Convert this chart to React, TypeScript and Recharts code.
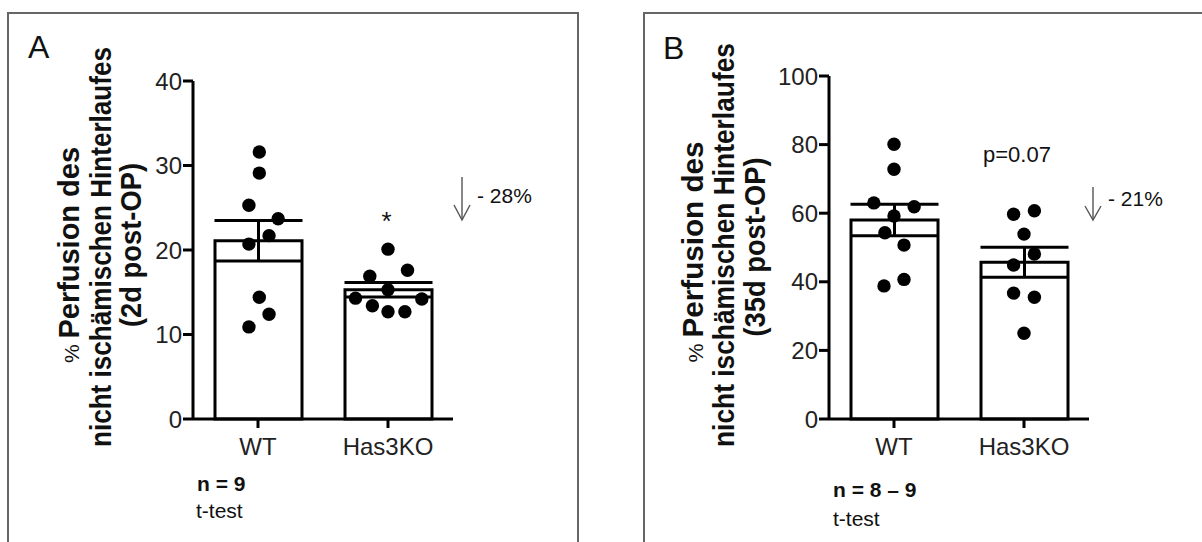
import React from 'react';
import { ComposedChart, Bar, ErrorBar, Scatter, XAxis, YAxis } from 'recharts';

const FONT = "'Liberation Sans', Arial, Helvetica, sans-serif";

// ---------- shared ----------
const categories = ['WT', 'Has3KO'];

// ---------- Panel A (2d post-OP) ----------
const aMeans = [21.1, 15.3];
const aSem = [2.4, 0.85];
const aWT = [31.6, 29.1, 25.3, 23.7, 21.7, 20.7, 14.4, 12.4, 10.9];
const aWTJitter = [0.01, 0.01, -0.07, 0.155, 0.085, -0.07, 0.01, 0.085, -0.07];
const aKO = [20.1, 16.9, 17.6, 15.3, 14.3, 14.2, 13.4, 12.7, 12.7];
const aKOJitter = [0, -0.14, 0.15, 0, -0.25, 0.26, -0.12, 0, 0.13];
const aTicks = [0, 10, 20, 30, 40];
const aLabel = ['Perfusion des', 'nicht ischämischen Hinterlaufes', '(2d post-OP)'];

// ---------- Panel B (35d post-OP) ----------
const bMeans = [58.0, 45.7];
const bSem = [4.6, 4.4];
const bWT = [80.1, 72.8, 63.0, 61.9, 59.2, 54.3, 50.7, 38.8, 40.7];
const bWTJitter = [0, 0, -0.155, 0.155, 0, -0.07, 0.077, -0.077, 0.077];
const bKO = [59.7, 60.7, 53.9, 48.1, 44.9, 36.7, 35.5, 25.0];
const bKOJitter = [-0.08, 0.08, 0, 0.08, -0.08, -0.08, 0.08, 0];
const bTicks = [0, 20, 40, 60, 80, 100];
const bLabel = ['Perfusion des', 'nicht ischämischen Hinterlaufes', '(35d post-OP)'];

const buildBars = (means: number[], sem: number[]) =>
  categories.map((name, i) => ({ name, mean: means[i], sem: sem[i] }));

const buildPoints = (wt: number[], wtJ: number[], ko: number[], koJ: number[]) => [
  ...wt.map((v, j) => ({ x: 0 + wtJ[j], y: v })),
  ...ko.map((v, j) => ({ x: 1 + koJ[j], y: v })),
];

const Dot = (props: any) => <circle cx={props.cx} cy={props.cy} r={6.7} fill="#000" />;

type PanelProps = {
  left: number;
  width: number;
  margin: { top: number; right: number; bottom: number; left: number };
  domain: [number, number];
  ticks: number[];
  bars: any[];
  points: any[];
  label: string[];
  labelX: number[];
  labelY: number[];
  labelLen: number[];
};

const makeLabel = (lines: string[], xs: number[], ys: number[], lens: number[]) => () => (
  <g>
    {lines.map((t, i) => (
      <text
        key={i}
        transform={`translate(${xs[i]},${ys[i]}) rotate(-90)`}
        textAnchor="middle"
        fontFamily={FONT}
        fontSize={29}
        fontWeight="bold"
        fill="#111"
        textLength={lens[i]}
        lengthAdjust="spacingAndGlyphs"
      >
        {i === 0 ? (
          <>
            <tspan fontSize={21} fontWeight="normal">%  </tspan>
            {t}
          </>
        ) : (
          t
        )}
      </text>
    ))}
  </g>
);

const Panel = (p: PanelProps) => (
  <div style={{ position: 'absolute', left: p.left, top: 0 }}>
    <ComposedChart width={p.width} height={542} data={p.bars} margin={p.margin}>
      <XAxis
        xAxisId="cat"
        dataKey="name"
        type="category"
        axisLine={{ stroke: '#000', strokeWidth: 3 }}
        tickLine={{ stroke: '#000', strokeWidth: 3 }}
        tickSize={9}
        tickMargin={10}
        height={60}
        interval={0}
        tick={{ fill: '#222', fontSize: 24, fontFamily: FONT }}
      />
      <XAxis xAxisId="num" dataKey="x" type="number" domain={[-0.5, 1.5]} hide allowDataOverflow />
      <YAxis
        type="number"
        domain={p.domain}
        ticks={p.ticks}
        interval={0}
        width={60}
        axisLine={{ stroke: '#000', strokeWidth: 3 }}
        tickLine={{ stroke: '#000', strokeWidth: 3 }}
        tickSize={10}
        tickMargin={1}
        tick={{ fill: '#222', fontSize: 24, fontFamily: FONT }}
        label={{ content: makeLabel(p.label, p.labelX, p.labelY, p.labelLen) }}
      />
      <Bar
        xAxisId="cat"
        dataKey="mean"
        barSize={87}
        fill="#fff"
        stroke="#000"
        strokeWidth={3}
        isAnimationActive={false}
      >
        <ErrorBar dataKey="sem" width={44} stroke="#000" strokeWidth={3} direction="y" />
      </Bar>
      <Scatter
        xAxisId="num"
        data={p.points}
        dataKey="y"
        shape={Dot}
        isAnimationActive={false}
      />
    </ComposedChart>
  </div>
);

const txt = { fontFamily: FONT, fill: '#111' } as const;

export default function App() {
  return (
    <div style={{ position: 'absolute', left: 0, top: 0, width: 1202, height: 542, background: '#fff', overflow: 'hidden' }}>
      <div style={{ position: 'absolute', left: 7, top: 12, width: 568, height: 560, border: '2px solid #666' }} />
      <div style={{ position: 'absolute', left: 643, top: 12, width: 600, height: 560, border: '2px solid #666' }} />
      <Panel
        left={0}
        width={600}
        margin={{ top: 81, right: 147, bottom: 63, left: 133 }}
        domain={[0, 40]}
        ticks={aTicks}
        bars={buildBars(aMeans, aSem)}
        points={buildPoints(aWT, aWTJitter, aKO, aKOJitter)}
        label={aLabel}
        labelX={[79, 110.5, 141]}
        labelY={[255, 247, 245]}
        labelLen={[216, 400, 164]}
      />
      <Panel
        left={600}
        width={602}
        margin={{ top: 76, right: 113, bottom: 63, left: 169 }}
        domain={[0, 100]}
        ticks={bTicks}
        bars={buildBars(bMeans, bSem)}
        points={buildPoints(bWT, bWTJitter, bKO, bKOJitter)}
        label={bLabel}
        labelX={[103, 134, 165]}
        labelY={[252, 245, 247]}
        labelLen={[221, 404, 179]}
      />
      <svg width={1202} height={542} style={{ position: 'absolute', left: 0, top: 0, pointerEvents: 'none' }}>
        <text x={28} y={58} fontSize={32} {...txt}>A</text>
        <text x={663} y={59} fontSize={32} {...txt}>B</text>
        <text x={386.5} y={230} fontSize={26} textAnchor="middle" {...txt}>*</text>
        <g stroke="#555" strokeWidth={1.4} fill="none">
          <line x1={462} y1={177} x2={462} y2={219} />
          <polyline points="454,205 462,220 470,205" />
          <line x1={1093} y1={187} x2={1093} y2={219} />
          <polyline points="1085,206 1093,220 1101,206" />
        </g>
        <text x={477} y={203} fontSize={21} {...txt}>- 28%</text>
        <text x={1108} y={206} fontSize={21} {...txt}>- 21%</text>
        <text x={983} y={162} fontSize={22} {...txt}>p=0.07</text>
        <text x={197} y={491} fontSize={21} fontWeight="bold" {...txt}>n = 9</text>
        <text x={196} y={518} fontSize={21} {...txt}>t-test</text>
        <text x={833} y={497} fontSize={21} fontWeight="bold" {...txt}>n = 8 – 9</text>
        <text x={833} y={526} fontSize={21} {...txt}>t-test</text>
      </svg>
    </div>
  );
}
